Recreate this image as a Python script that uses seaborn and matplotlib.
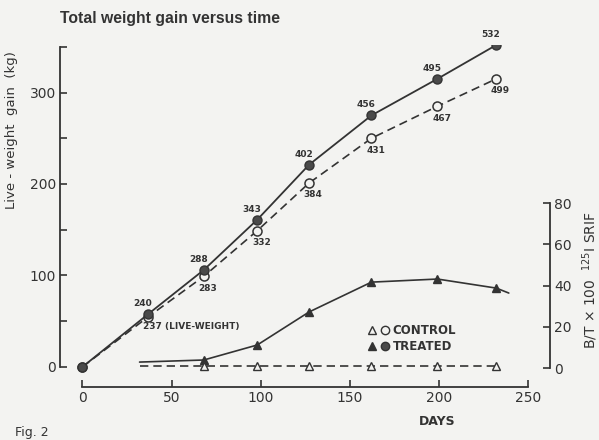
import seaborn as sns
import matplotlib.pyplot as plt
from matplotlib.lines import Line2D
from matplotlib.legend_handler import HandlerTuple

## data
days = [0, 37, 68, 98, 127, 162, 199, 232]
treated_gain = [0, 58, 106, 161, 221, 275, 315, 352]
control_gain = [0, 55, 99, 149, 201, 250, 285, 315]
treated_labels = ["", "240", "288", "343", "402", "456", "495", "532"]
control_labels = ["", "237 (LIVE-WEIGHT)", "283", "332", "384", "431", "467", "499"]

srif_days = [68, 98, 127, 162, 199, 232]
srif_treated = [3.9, 11.2, 27.2, 41.7, 43.2, 38.8]
srif_control = [1.0, 1.0, 1.0, 1.0, 1.0, 1.0]
# where the drawn curves start / end beyond the markers
srif_line_days = [32, 68, 98, 127, 162, 199, 232, 239]
srif_line_treated = [2.9, 3.9, 11.2, 27.2, 41.7, 43.2, 38.8, 36.4]
srif_line_control_days = [32, 68, 98, 127, 162, 199, 232]
srif_line_control = [1.0, 1.0, 1.0, 1.0, 1.0, 1.0, 1.0]

## theme
sns.set_theme(style="ticks")
plt.rcParams["font.family"] = ["DejaVu Sans"]
paper = "#f3f3f1"
ink = "#333333"

fig = plt.figure(figsize=(5.99, 4.40), dpi=100, facecolor=paper)
ax = fig.add_axes([60 / 599, 53 / 440, 490 / 599, 342 / 440])
ax.set_facecolor(paper)
ax2 = ax.twinx()

## weight gain lines
sns.lineplot(x=days, y=control_gain, ax=ax, color=ink, lw=1.2,
             linestyle=(0, (5, 3)), marker="o", markersize=6.5,
             markerfacecolor=paper, markeredgecolor=ink, markeredgewidth=1.1)
sns.lineplot(x=days, y=treated_gain, ax=ax, color=ink, lw=1.3,
             marker="o", markersize=6.5, markerfacecolor="#4a4a4a",
             markeredgecolor=ink, markeredgewidth=1.0)

for d, g, t in zip(days, treated_gain, treated_labels):
    if t:
        ax.annotate(t, (d, g), xytext=(-4, 7.5), textcoords="offset points",
                    ha="center", va="center", fontsize=6.5, fontweight="bold", color=ink)
for d, g, t in zip(days, control_gain, control_labels):
    if t.startswith("237"):
        ax.annotate(t, (d, g), xytext=(-4, -7), textcoords="offset points",
                    ha="left", va="center", fontsize=6.5, fontweight="bold", color=ink)
    elif t:
        ax.annotate(t, (d, g), xytext=(3, -8.5), textcoords="offset points",
                    ha="center", va="center", fontsize=6.5, fontweight="bold", color=ink)

## binding curves on the right axis
sns.lineplot(x=srif_line_days, y=srif_line_treated, ax=ax2, color=ink, lw=1.2)
sns.lineplot(x=srif_line_control_days, y=srif_line_control, ax=ax2, color=ink,
             lw=1.2, linestyle=(0, (5, 3)))
ax2.plot(srif_days, srif_treated, ls="none", marker="^", ms=6, mfc=ink, mec=ink)
ax2.plot(srif_days, srif_control, ls="none", marker="^", ms=6, mfc=paper, mec=ink, mew=1.0)

## axes
ax.set_xlim(-12.6, 262.1)
ax.set_ylim(-22, 352)
ax2.set_ylim(-9.2, 156.8)

ax.set_xticks([0, 50, 100, 150, 200, 250])
ax.set_yticks([0, 50, 100, 150, 200, 250, 300, 350])
ax.set_yticklabels(["0", "", "100", "", "200", "", "300", ""])
ax2.set_yticks([0, 20, 40, 60, 80])

for s in ["top", "right"]:
    ax.spines[s].set_visible(False)
for s in ["top", "left", "bottom"]:
    ax2.spines[s].set_visible(False)
ax.spines["left"].set_bounds(0, 350)
ax.spines["bottom"].set_bounds(0, 250)
ax2.spines["right"].set_bounds(0, 80)
for sp in [ax.spines["left"], ax.spines["bottom"], ax2.spines["right"]]:
    sp.set_color(ink)
    sp.set_linewidth(1.3)

ax.tick_params(axis="both", direction="in", length=5, width=1.2, color=ink,
               labelcolor=ink, labelsize=10, pad=3)
ax2.tick_params(axis="y", direction="in", length=5, width=1.2, color=ink,
                labelcolor=ink, labelsize=10, pad=3)
ax.set_xlabel("")
ax.set_ylabel("")
ax2.set_ylabel("")

## legend
h_c = (Line2D([], [], ls="none", marker="^", ms=6, mfc=paper, mec=ink),
       Line2D([], [], ls="none", marker="o", ms=6, mfc=paper, mec=ink))
h_t = (Line2D([], [], ls="none", marker="^", ms=6, mfc=ink, mec=ink),
       Line2D([], [], ls="none", marker="o", ms=6, mfc="#4a4a4a", mec=ink))
leg = ax2.legend([h_c, h_t], ["CONTROL", "TREATED"],
                 handler_map={tuple: HandlerTuple(ndivide=None, pad=0.4)},
                 frameon=False, loc="upper left",
                 bbox_to_anchor=(362 / 599, 1 - 318 / 440),
                 bbox_transform=fig.transFigure, handlelength=1.8,
                 handletextpad=0.3, labelspacing=0.3, borderpad=0,
                 prop={"size": 8.5, "weight": "bold"})
for t in leg.get_texts():
    t.set_color(ink)

## texts
fig.text(60 / 599, 1 - 19 / 440, "Total weight gain versus time", fontsize=11.3,
         fontweight="bold", color=ink, family="Liberation Sans", va="center", ha="left")
fig.text(12 / 599, 1 - 130 / 440, "Live - weight  gain  (kg)", rotation=90,
         fontsize=9.5, color=ink, va="center", ha="center")
fig.text(590 / 599, 1 - 280 / 440, r"B/T $\times$ 100  $^{125}$I SRIF", rotation=90,
         fontsize=10, color=ink, va="center", ha="center")
fig.text(437 / 599, 1 - 421 / 440, "DAYS", fontsize=9, fontweight="bold",
         color=ink, va="center", ha="center")
fig.text(15 / 599, 1 - 432 / 440, "Fig. 2", fontsize=9, color=ink,
         va="center", ha="left")

fig.savefig("out.png", dpi=100, facecolor=paper)
